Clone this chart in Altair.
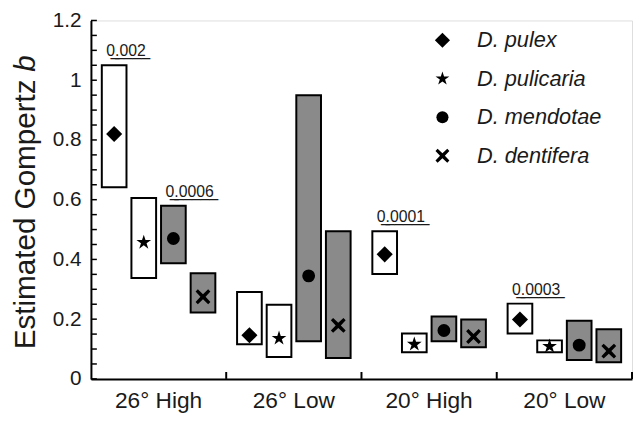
import altair as alt
import pandas as pd

groups = ["26° High", "26° Low", "20° High", "20° Low"]
species = ["D. pulex", "D. pulicaria", "D. mendotae", "D. dentifera"]
shaded_species = ["D. mendotae", "D. dentifera"]

# rows: groups, columns: species
b_low = [
    [0.642, 0.338, 0.387, 0.222],
    [0.116, 0.073, 0.126, 0.070],
    [0.351, 0.089, 0.126, 0.106],
    [0.152, 0.089, 0.063, 0.056],
]
b_high = [
    [1.050, 0.606, 0.580, 0.354],
    [0.291, 0.248, 0.950, 0.494],
    [0.494, 0.152, 0.209, 0.199],
    [0.252, 0.129, 0.195, 0.166],
]
b_est = [
    [0.820, 0.457, 0.470, 0.275],
    [0.146, 0.136, 0.345, 0.179],
    [0.417, 0.116, 0.162, 0.142],
    [0.199, 0.109, 0.113, 0.093],
]
p_labels = [
    ["0.002", "", "0.0006", ""],
    ["", "", "", ""],
    ["0.0001", "", "", ""],
    ["0.0003", "", "", ""],
]
y_labels = [0, 0.2, 0.4, 0.6, 0.8, 1.0, 1.2]
y_ticks = [0, 0.05, 0.1, 0.15, 0.2, 0.25, 0.3, 0.35, 0.4, 0.45, 0.5, 0.55, 0.6,
           0.65, 0.7, 0.75, 0.8, 0.85, 0.9, 0.95, 1.0, 1.05, 1.1, 1.15, 1.2]
title_main = "Estimated Gompertz"
title_italic = "b"

FONT = "Liberation Sans"
GRAY = "#8a8a8a"
TXT = "#1a1a1a"

def underline(s):
    return "".join(c + "\u0332" for c in s)

rows = []
for gi, g in enumerate(groups):
    for si, s in enumerate(species):
        rows.append({
            "group": g, "species": s,
            "lo": b_low[gi][si], "hi": b_high[gi][si], "est": b_est[gi][si],
            "p": underline(p_labels[gi][si]) if p_labels[gi][si] else "",
        })
df = pd.DataFrame(rows)

xscale = alt.Scale(domain=groups, paddingInner=0, paddingOuter=0)
oscale = alt.Scale(domain=species, paddingInner=1 / 6, paddingOuter=0.367)
yscale = alt.Scale(domain=[0, 1.2], nice=False, zero=True)

xaxis = alt.Axis(title=None, ticks=False, labelAngle=0, labelFontSize=23,
                 labelPadding=11, labelColor=TXT, labelFont=FONT,
                 domainColor="black", domainWidth=2, grid=False)
yaxis = alt.Axis(title=None, values=y_labels, format="~g", ticks=False,
                 labelFontSize=21, labelPadding=10, labelColor=TXT,
                 labelFont=FONT, domainColor="black", domainWidth=2,
                 grid=False)


def X(**kw):
    return alt.X("group:N", scale=xscale, sort=groups, axis=xaxis, **kw)


def Y(field):
    return alt.Y(field, scale=yscale, axis=yaxis)


XO = alt.XOffset("species:N", scale=oscale, sort=species)

base = alt.Chart(df)

bars = base.mark_bar(stroke="black", strokeWidth=2).encode(
    x=X(),
    xOffset=XO,
    y=Y("lo:Q"),
    y2="hi:Q",
    fill=alt.condition(
        alt.FieldOneOfPredicate(field="species", oneOf=shaded_species),
        alt.value(GRAY), alt.value("white")),
)

diamond = "M-1.25,0L0,-1.25L1.25,0L0,1.25Z"
star = ("M0,-1.2L0.268,-0.369L1.141,-0.371L0.434,0.141L0.705,0.971L0,0.456"
        "L-0.705,0.971L-0.434,0.141L-1.141,-0.371L-0.268,-0.369Z")
xmark = ("M-1.15,-0.8L-0.8,-1.15L0,-0.4L0.8,-1.15L1.15,-0.8L0.4,0L1.15,0.8"
         "L0.8,1.15L0,0.4L-0.8,1.15L-1.15,0.8L-0.4,0Z")

points = base.mark_point(filled=True, color="black", opacity=1, size=170).encode(
    x=X(),
    xOffset=XO,
    y=Y("est:Q"),
    shape=alt.Shape("species:N", sort=species,
                    scale=alt.Scale(domain=species,
                                    range=[diamond, star, "circle", xmark]),
                    legend=alt.Legend(title=None, orient="none", legendX=345,
                                      legendY=9, padding=0, labelFontSize=22,
                                      labelFontStyle="italic", labelFont=FONT,
                                      labelColor=TXT, symbolSize=150,
                                      symbolFillColor="black",
                                      symbolStrokeWidth=0, rowPadding=17,
                                      labelOffset=24)),
)

ptext = base.transform_filter(alt.datum.p != "").mark_text(
    align="left", baseline="alphabetic", dx=-8, dy=-9, fontSize=16,
    font=FONT, color=TXT).encode(
    x=X(),
    xOffset=XO,
    y=Y("hi:Q"),
    text="p:N",
)

yt = alt.Chart(pd.DataFrame({"v": y_ticks})).mark_rule(
    color="black", strokeWidth=1.5).encode(
    y=Y("v:Q"),
    x=alt.value(0), x2=alt.value(6),
)

xt = alt.Chart(pd.DataFrame({"group": groups})).mark_rule(
    color="black", strokeWidth=2).encode(
    x=X(bandPosition=1),
    y=alt.value(356), y2=alt.value(363),
)

t1 = alt.Chart(pd.DataFrame({"t": [title_main]})).mark_text(
    angle=270, align="left", baseline="alphabetic", fontSize=30, font=FONT,
    color=TXT).encode(text="t:N", x=alt.value(-57), y=alt.value(333))
t2 = alt.Chart(pd.DataFrame({"t": [title_italic]})).mark_text(
    angle=270, align="left", baseline="alphabetic", fontSize=30, font=FONT,
    fontStyle="italic", color=TXT).encode(text="t:N", x=alt.value(-57),
                                          y=alt.value(52))

chart = alt.layer(bars, points, ptext, yt, xt, t1, t2).properties(
    width=548, height=363,
    autosize=alt.AutoSizeParams(type="none"),
    padding={"left": 84, "top": 10, "right": 1, "bottom": 40},
).configure_view(stroke=None).configure(font=FONT)

chart.save("out.html", embed_options={"renderer": "svg", "actions": False})
